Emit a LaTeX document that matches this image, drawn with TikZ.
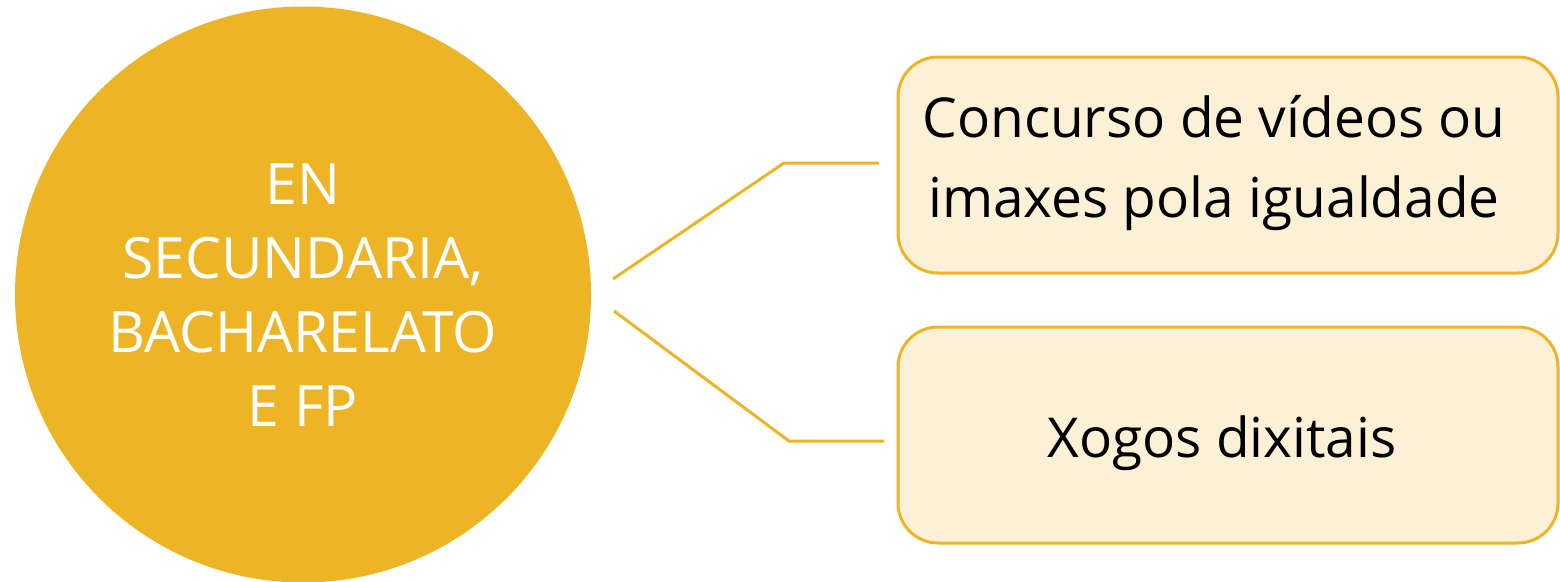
\documentclass[tikz,border=0pt]{standalone}
\usepackage{fontspec}
\setmainfont{Open Sans}
\definecolor{gold}{HTML}{EDB426}
\definecolor{cream}{HTML}{FCF1D7}
\begin{document}
\begin{tikzpicture}[x=1pt,y=-1pt,
  conn/.style={draw=gold,line width=3pt},
  box/.style={draw=gold,line width=3pt,fill=cream,rounded corners=40pt},
  boxtext/.style={font=\fontsize{55}{80}\selectfont,align=center,text=black}]
\useasboundingbox (0,0) rectangle (1560,581);
\fill[gold] (303,294.5) circle[radius=288];
\node[font=\fontsize{57}{74}\selectfont,text=white,align=center] (c) at (303,295) {EN\\SECUNDARIA,\\BACHARELATO\\E FP};
\draw[box] (898,57) rectangle (1558,273);
\draw[box] (898,327) rectangle (1558,543);
\node[boxtext] (b1) at (1214,163) {Concurso de vídeos ou\\imaxes pola igualdade};
\node[boxtext] (b2) at (1222,443) {Xogos dixitais};
\coordinate (s1) at (613,279);
\coordinate (k1) at (784,163);
\coordinate (e1) at (879,163);
\coordinate (s2) at (614,311);
\coordinate (k2) at (789,441);
\coordinate (e2) at (884,441);
\draw[conn] (s1) -- (k1) -- (e1);
\draw[conn] (s2) -- (k2) -- (e2);
\end{tikzpicture}
\end{document}
